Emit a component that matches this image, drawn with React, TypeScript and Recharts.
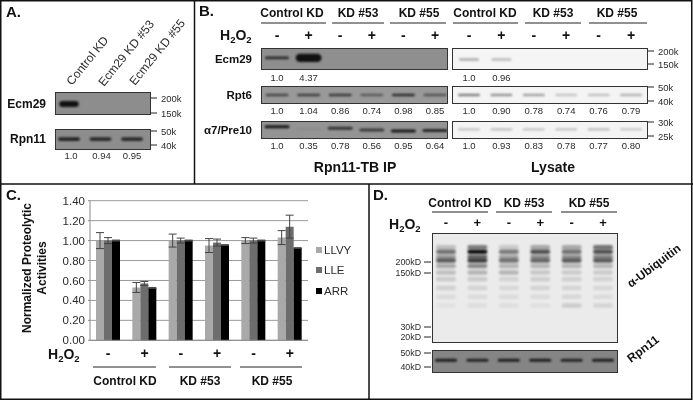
import React from "react";
import { BarChart, Bar, XAxis, YAxis, CartesianGrid, ErrorBar, Legend, ScatterChart, Scatter } from "recharts";

// Panel C
const h2o2 = ["-", "+", "-", "+", "-", "+"];
const llvy = [1.0, 0.53, 1.0, 0.95, 1.0, 1.03];
const lle = [1.0, 0.57, 1.0, 0.98, 1.0, 1.14];
const arr = [1.0, 0.525, 1.0, 0.955, 1.0, 0.925];
const llvyErr = [0.08, 0.05, 0.065, 0.07, 0.03, 0.07];
const lleErr = [0.03, 0.02, 0.025, 0.035, 0.025, 0.115];
const arrErr = [0.005, 0.005, 0.005, 0.004, 0.005, 0.004];
const yTicks = [0, 0.2, 0.4, 0.6, 0.8, 1.0, 1.2, 1.4];
const groups = ["Control KD", "KD #53", "KD #55"];

// Quantification under the blots
const aQuant = ["1.0", "0.94", "0.95"];
const ipEcmQuant = ["1.0", "4.37"];
const ipRptQuant = ["1.0", "1.04", "0.86", "0.74", "0.98", "0.85"];
const ipPreQuant = ["1.0", "0.35", "0.78", "0.56", "0.95", "0.64"];
const lyEcmQuant = ["1.0", "0.96"];
const lyRptQuant = ["1.0", "0.90", "0.78", "0.74", "0.76", "0.79"];
const lyPreQuant = ["1.0", "0.93", "0.83", "0.78", "0.77", "0.80"];

// Band strength per lane
const aEcmBand = [1.8, 0, 0];
const aRpnBand = [0.85, 0.8, 0.8];
const ipEcmBand = [0.8, 3.0, 0, 0, 0, 0];
const ipRptBand = [0.6, 0.65, 0.7, 0.45, 0.8, 0.5];
const ipPreBand = [0.95, 0.05, 0.75, 0.7, 0.95, 0.85];
const ipPrePos = [0.32, 0.45, 0.4, 0.5, 0.55, 0.53];
const lyEcmBand = [0.32, 0.26, 0, 0, 0, 0];
const lyRptBand = [0.5, 0.42, 0.35, 0.2, 0.22, 0.28];
const lyPreBand = [0.22, 0.24, 0.22, 0.22, 0.25, 0.2];
const dRpnBand = [0.9, 0.85, 0.9, 0.9, 0.85, 0.9];
const ubiqRows = [
  { pos: 0.13, levels: [0.2, 0.5, 0.15, 0.3, 0.3, 0.55] },
  { pos: 0.17, levels: [0.55, 1.0, 0.5, 0.7, 0.55, 0.7] },
  { pos: 0.215, levels: [0.35, 0.6, 0.3, 0.4, 0.4, 0.45] },
  { pos: 0.25, levels: [0.65, 0.8, 0.55, 0.6, 0.65, 0.65] },
  { pos: 0.3, levels: [0.3, 0.45, 0.25, 0.24, 0.24, 0.24] },
  { pos: 0.36, levels: [0.2, 0.25, 0.24, 0.16, 0.14, 0.14] },
  { pos: 0.42, levels: [0.14, 0.15, 0.11, 0.13, 0.12, 0.11] },
  { pos: 0.5, levels: [0.12, 0.11, 0.09, 0.1, 0.1, 0.09] },
  { pos: 0.58, levels: [0.07, 0.07, 0.07, 0.07, 0.09, 0.07] },
  { pos: 0.66, levels: [0.04, 0.06, 0.06, 0.05, 0.14, 0.1] },
];
const ubiqTicks = ["200kD", "150kD", "30kD", "20kD"];

const chartData = h2o2.map((t, i) => ({
  t,
  LLVY: llvy[i],
  LLE: lle[i],
  ARR: arr[i],
  llvyErr: llvyErr[i],
  lleErr: lleErr[i],
  arrErr: arrErr[i],
}));

const FONT = "'Liberation Sans', Arial, sans-serif";
const INK = "#2b2b2b";

type BlotProps = {
  left: number; top: number; width: number; height: number;
  first: number; step: number; bg: string; bandW: number; bandH: number;
  rows: { pos: number | number[]; levels: number[] }[]; color?: string; border?: string; blur?: number;
};

function Blot({ left, top, width, height, first, step, bg, bandW, bandH, rows, color = "#111", border = "#333", blur = 1 }: BlotProps) {
  const points = rows.flatMap((r) =>
    r.levels.map((level, lane) => ({ lane, pos: Array.isArray(r.pos) ? r.pos[lane] : r.pos, level }))
  ).filter((p) => p.level > 0);
  const shape = (p: any) => {
    const level = p.payload.level;
    const h = bandH * (level > 1 ? level : 1);
    const w = bandW * (level > 1 ? 1.08 : 1);
    return (
      <rect x={p.cx - w / 2} y={p.cy - h / 2} width={w} height={h} rx={h / 2}
        fill={color} opacity={Math.min(1, level)} style={{ filter: `blur(${blur}px)` }} />
    );
  };
  return (
    <div style={{ position: "absolute", left, top, width, height, background: bg, boxSizing: "border-box", border: `1.4px solid ${border}`, overflow: "hidden" }}>
      <ScatterChart width={width} height={height} margin={{ top: 0, right: 0, bottom: 0, left: 0 }} style={{ position: "absolute", left: -1, top: -1 }}>
        <XAxis type="number" dataKey="lane" hide domain={[(left - first) / step, (left + width - first) / step]} allowDataOverflow />
        <YAxis type="number" dataKey="pos" hide domain={[0, 1]} reversed allowDataOverflow />
        <Scatter data={points} isAnimationActive={false} shape={shape} />
      </ScatterChart>
    </div>
  );
}

const T = ({ x, y, s = 10, b = false, a = "start", r, c = INK, children }: any) => (
  <text x={x} y={y} fontSize={s} fontWeight={b ? 700 : 400} textAnchor={a} fill={c} fontFamily={FONT}
    transform={r ? `rotate(${r} ${x} ${y})` : undefined}>{children}</text>
);
const L = ({ x1, x2, y1, y2 = y1, w = 1, c = "#222" }: any) => <line x1={x1} x2={x2} y1={y1} y2={y2} stroke={c} strokeWidth={w} />;

const H2O2 = ({ x, y, s = 14 }: any) => (
  <text x={x} y={y} fontSize={s} fontWeight={700} fill="#111" fontFamily={FONT}>
    H<tspan fontSize={s * 0.68} dy={3}>2</tspan><tspan dy={-3}>O</tspan><tspan fontSize={s * 0.68} dy={3}>2</tspan>
  </text>
);

const Signs = ({ first, step, y, s = 14 }: any) => (
  <>{h2o2.map((m, i) => <T key={i} x={first + step * i} y={y} s={s} b a="middle" c="#111">{m}</T>)}</>
);
const Quant = ({ first, step, y, vals, s = 9.5 }: any) => (
  <>{vals.map((v: string, i: number) => <T key={i} x={first + step * i} y={y} s={s} a="middle">{v}</T>)}</>
);
const MW = ({ x, y, label, right = true }: any) =>
  right ? (
    <>
      <L x1={x} x2={x + 6} y1={y} />
      <T x={x + 10} y={y + 3.5} s={9.5}>{label}</T>
    </>
  ) : (
    <>
      <L x1={x - 7} x2={x} y1={y} />
      <T x={x - 10} y={y + 3.2} s={8.8} a="end">{label}</T>
    </>
  );

const IPF = 277, IPS = 31.6, LYF = 469, LYS = 32.4, DF = 446, DS = 31.4;

const legendContent = () => (
  <div style={{ fontFamily: FONT, fontSize: 11.5, color: INK, lineHeight: "20.5px" }}>
    {[["LLVY", "#a9a9a9"], ["LLE", "#6d6d6d"], ["ARR", "#000"]].map(([n, col]) => (
      <div key={n} style={{ display: "flex", alignItems: "center", gap: 2 }}>
        <span style={{ width: 6, height: 6, background: col, display: "inline-block" }} />{n}
      </div>
    ))}
  </div>
);

export default function App() {
  return (
    <div style={{ position: "absolute", left: 0, top: 0, width: 693, height: 400, background: "#fff", overflow: "hidden", filter: "blur(0.35px)" }}>
      {/* Panel A blots */}
      <Blot left={55} top={92} width={96} height={23} first={69} step={31.5} bg="#8d8d8d" bandW={18} bandH={3.4} rows={[{ pos: 0.52, levels: aEcmBand }]} />
      <Blot left={55} top={129} width={96} height={21} first={69} step={31.5} bg="#8d8d8d" bandW={22} bandH={3.6} rows={[{ pos: 0.48, levels: aRpnBand }]} />
      {/* Panel B IP */}
      <Blot left={261} top={48} width={187} height={22} first={IPF} step={IPS} bg="#8f8f8f" bandW={24} bandH={2.8} rows={[{ pos: 0.45, levels: ipEcmBand }]} />
      <Blot left={261} top={86} width={187} height={18} first={IPF} step={IPS} bg="#999" bandW={23} bandH={2.6} rows={[{ pos: 0.5, levels: ipRptBand }]} />
      <Blot left={261} top={121} width={187} height={18} first={IPF} step={IPS} bg="#949494" bandW={25} bandH={3} rows={[{ pos: ipPrePos, levels: ipPreBand }]} />
      {/* Panel B lysate */}
      <Blot left={452} top={48} width={196} height={22} first={LYF} step={LYS} bg="#f5f5f5" bandW={20} bandH={2.4} rows={[{ pos: 0.52, levels: lyEcmBand }]} />
      <Blot left={452} top={86} width={196} height={18} first={LYF} step={LYS} bg="#f4f4f4" bandW={22} bandH={2.6} rows={[{ pos: 0.5, levels: lyRptBand }]} />
      <Blot left={452} top={121} width={196} height={18} first={LYF} step={LYS} bg="#f4f4f4" bandW={22} bandH={2.2} rows={[{ pos: 0.47, levels: lyPreBand }]} />
      {/* Panel D */}
      <Blot left={432} top={233} width={186} height={110} first={DF} step={DS} bg="#ebebeb" bandW={20} bandH={4.5} blur={1.3} rows={ubiqRows} color="#111" />
      <Blot left={432} top={350} width={186} height={23} first={DF} step={DS} bg="#858585" bandW={22} bandH={3} rows={[{ pos: 0.45, levels: dRpnBand }]} />

      {/* Panel C chart */}
      <div style={{ position: "absolute", left: 0, top: 190 }}>
        <BarChart width={352} height={190} data={chartData} barSize={8} barGap={0}
          margin={{ top: 10.7, right: 8, bottom: 0, left: 0 }}>
          <CartesianGrid vertical={false} stroke="#9a9a9a" strokeWidth={1} />
          <XAxis dataKey="t" interval={0} axisLine={{ stroke: "#8a8a8a" }} tickLine={false} height={39.7}
            tick={{ fontFamily: FONT, fontSize: 14, fontWeight: 700, fill: "#111" }} tickMargin={2} />
          <YAxis width={90} domain={[0, 1.4]} ticks={yTicks} tickFormatter={(v: number) => v.toFixed(2)} interval={0}
            axisLine={{ stroke: "#8a8a8a" }} tickLine={{ stroke: "#8a8a8a" }} tickSize={2} tickMargin={3}
            tick={{ fontFamily: FONT, fontSize: 11.5, fill: INK }} />
          <Legend layout="vertical" align="right" verticalAlign="top" content={legendContent}
            wrapperStyle={{ left: 316, top: 49.5, width: 36 }} />
          <Bar dataKey="LLVY" fill="#a9a9a9" isAnimationActive={false}>
            <ErrorBar dataKey="llvyErr" width={4} stroke="#444" strokeWidth={1} isAnimationActive={false} />
          </Bar>
          <Bar dataKey="LLE" fill="#6d6d6d" isAnimationActive={false}>
            <ErrorBar dataKey="lleErr" width={4} stroke="#444" strokeWidth={1} isAnimationActive={false} />
          </Bar>
          <Bar dataKey="ARR" fill="#000" isAnimationActive={false}>
            <ErrorBar dataKey="arrErr" width={4} stroke="#444" strokeWidth={1} isAnimationActive={false} />
          </Bar>
        </BarChart>
      </div>

      {/* Annotations and frame */}
      <svg width={693} height={400} style={{ position: "absolute", left: 0, top: 0, pointerEvents: "none" }}>
        <rect x={0.75} y={0.75} width={691} height={398.5} fill="none" stroke="#111" strokeWidth={1.5} />
        <L x1={194.5} x2={194.5} y1={0} y2={184} w={1.5} c="#111" />
        <L x1={0} x2={693} y1={184} w={1.5} c="#111" />
        <L x1={369} x2={369} y1={184} y2={400} w={1.5} c="#111" />

        <T x={6} y={17} s={15} b c="#111">A.</T>
        <T x={199} y={16} s={15} b c="#111">B.</T>
        <T x={6} y={200} s={15} b c="#111">C.</T>
        <T x={373} y={200} s={15} b c="#111">D.</T>

        {/* A */}
        <T x={72} y={86} s={12} r={-51}>Control KD</T>
        <T x={104} y={87} s={12} r={-51}>Ecm29 KD #53</T>
        <T x={135} y={86} s={12} r={-51}>Ecm29 KD #55</T>
        <T x={46} y={108} s={12} b a="end" c="#111">Ecm29</T>
        <T x={46} y={143} s={12} b a="end" c="#111">Rpn11</T>
        <MW x={151} y={98} label="200k" /><MW x={151} y={113} label="150k" />
        <MW x={151} y={131} label="50k" /><MW x={151} y={145} label="40k" />
        <Quant first={71} step={30.5} y={159} vals={aQuant} />

        {/* B headers */}
        <T x={292} y={17} s={12} b a="middle" c="#111">{groups[0]}</T>
        <T x={358} y={17} s={12} b a="middle" c="#111">{groups[1]}</T>
        <T x={419} y={17} s={12} b a="middle" c="#111">{groups[2]}</T>
        <T x={485} y={17} s={12} b a="middle" c="#111">{groups[0]}</T>
        <T x={553} y={17} s={12} b a="middle" c="#111">{groups[1]}</T>
        <T x={617} y={17} s={12} b a="middle" c="#111">{groups[2]}</T>
        <L x1={261} x2={326} y1={23} /><L x1={332} x2={384} y1={23} /><L x1={390} x2={446} y1={23} />
        <L x1={453} x2={518} y1={23} /><L x1={525} x2={581} y1={23} /><L x1={589} x2={647} y1={23} />
        <H2O2 x={220} y={40} />
        <Signs first={IPF} step={IPS} y={40} />
        <Signs first={LYF} step={LYS} y={40} />
        <T x={252} y={63} s={11.5} b a="end" c="#111">Ecm29</T>
        <T x={252} y={99} s={11.5} b a="end" c="#111">Rpt6</T>
        <T x={252} y={134} s={11.5} b a="end" c="#111">α7/Pre10</T>
        <Quant first={IPF} step={IPS} y={81} vals={ipEcmQuant} />
        <Quant first={IPF} step={IPS} y={114} vals={ipRptQuant} />
        <Quant first={IPF} step={IPS} y={149} vals={ipPreQuant} />
        <Quant first={LYF} step={LYS} y={81} vals={lyEcmQuant} />
        <Quant first={LYF} step={LYS} y={114} vals={lyRptQuant} />
        <Quant first={LYF} step={LYS} y={149} vals={lyPreQuant} />
        <MW x={648} y={51} label="200k" /><MW x={648} y={64} label="150k" />
        <MW x={648} y={87} label="50k" /><MW x={648} y={101} label="40k" />
        <MW x={648} y={122} label="30k" /><MW x={648} y={136} label="25k" />
        <T x={355} y={172} s={14} b a="middle" c="#111">Rpn11-TB IP</T>
        <T x={553} y={172} s={14} b a="middle" c="#111">Lysate</T>

        {/* C */}
        <g transform="rotate(-90 27 268)"><T x={27} y={272} s={12} b a="middle" c="#111">Normalized Proteolytic</T></g>
        <g transform="rotate(-90 42 268)"><T x={42} y={272} s={12} b a="middle" c="#111">Activities</T></g>
        <H2O2 x={48} y={359} />
        <L x1={93} x2={156} y1={367} /><L x1={169} x2={231} y1={367} /><L x1={240} x2={302} y1={367} />
        <T x={125} y={385} s={12} b a="middle" c="#111">{groups[0]}</T>
        <T x={200} y={385} s={12} b a="middle" c="#111">{groups[1]}</T>
        <T x={272} y={385} s={12} b a="middle" c="#111">{groups[2]}</T>

        {/* D */}
        <T x={460} y={207} s={12} b a="middle" c="#111">{groups[0]}</T>
        <T x={524} y={207} s={12} b a="middle" c="#111">{groups[1]}</T>
        <T x={589} y={207} s={12} b a="middle" c="#111">{groups[2]}</T>
        <L x1={432} x2={488} y1={212} /><L x1={496} x2={552} y1={212} /><L x1={561} x2={617} y1={212} />
        <H2O2 x={389} y={229} />
        <Signs first={DF} step={DS} y={227} s={13} />
        <MW x={431} y={262} label={ubiqTicks[0]} right={false} />
        <MW x={431} y={273} label={ubiqTicks[1]} right={false} />
        <MW x={431} y={327} label={ubiqTicks[2]} right={false} />
        <MW x={431} y={337} label={ubiqTicks[3]} right={false} />
        <MW x={431} y={353} label="50kD" right={false} />
        <MW x={431} y={367} label="40kD" right={false} />
        <T x={631} y={288} s={12} b r={-37} c="#111">α-Ubiquitin</T>
        <T x={631} y={363} s={12} b r={-37} c="#111">Rpn11</T>
      </svg>
    </div>
  );
}
